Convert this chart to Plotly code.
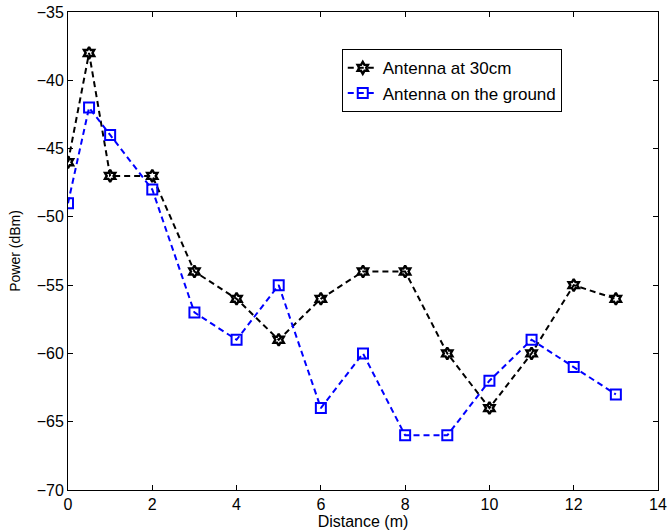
import plotly.graph_objects as go

distance = [0, 0.5, 1, 2, 3, 4, 5, 6, 7, 8, 9, 10, 11, 12, 13]
power_30cm = [-46, -38, -47, -47, -54, -56, -59, -56, -54, -54, -60, -64, -60, -55, -56]
power_ground = [-49, -42, -44, -48, -57, -59, -55, -64, -60, -66, -66, -62, -59, -61, -63]
x_ticks = [0, 2, 4, 6, 8, 10, 12, 14]
y_ticks = [-70, -65, -60, -55, -50, -45, -40, -35]

FONT = "Liberation Sans, Arial, sans-serif"

fig = go.Figure()
fig.add_trace(go.Scatter(
    x=distance, y=power_30cm, mode="lines+markers", name="Antenna at 30cm",
    line=dict(color="black", width=2, dash="6px,4px"),
    marker=dict(symbol="hexagram-open", size=9, color="black", line=dict(width=2.4, color="black")),
))
fig.add_trace(go.Scatter(
    x=distance, y=power_ground, mode="lines+markers", name="Antenna on the ground",
    line=dict(color="#0000ff", width=2, dash="6px,4px"),
    marker=dict(symbol="square-open", size=10, color="#0000ff", line=dict(width=2, color="#0000ff")),
))

axis_common = dict(
    showline=True, linecolor="black", linewidth=1, mirror="ticks",
    ticks="inside", ticklen=5, tickcolor="black", showgrid=False, zeroline=False,
    automargin=False,
    tickfont=dict(family=FONT, size=16, color="black"),
)
fig.update_xaxes(range=[0, 14], tickvals=x_ticks, title=dict(text="Distance (m)", standoff=2,
                 font=dict(family=FONT, size=16, color="black")), **axis_common)
fig.update_yaxes(range=[-70, -35], tickvals=y_ticks, title=dict(text="Power (dBm)", standoff=12,
                 font=dict(family=FONT, size=14, color="black")), **axis_common)

fig.update_layout(
    width=670, height=532,
    margin=dict(l=68, r=12, t=12, b=42),
    plot_bgcolor="white", paper_bgcolor="white",
    font=dict(family=FONT, size=16, color="black"),
    legend=dict(x=0.464, y=0.922, xanchor="left", yanchor="top",
                bordercolor="black", borderwidth=1, bgcolor="white",
                font=dict(size=17), tracegroupgap=0, entrywidth=210),
    showlegend=True,
)

fig.write_html("out.html", config={"displayModeBar": False},
               post_script="document.body.style.margin='0';")
